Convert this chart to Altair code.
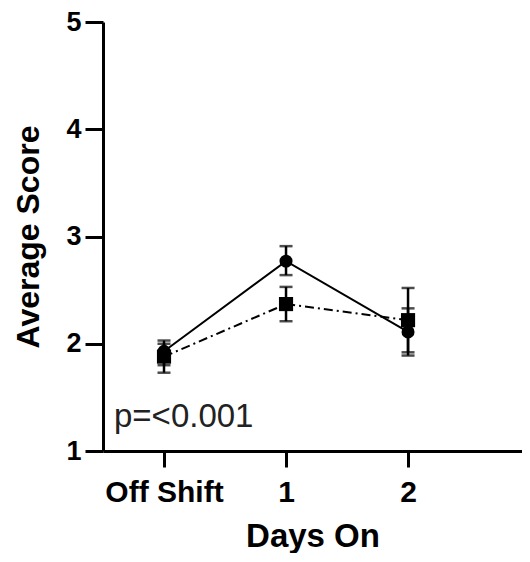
import altair as alt
import pandas as pd

# Data
days = ["Off Shift", "1", "2"]
day_pos = [0, 1, 2]
circle_mean = [1.93, 2.77, 2.11]
circle_lo = [1.80, 2.64, 1.89]
circle_hi = [2.03, 2.91, 2.33]
square_mean = [1.88, 2.37, 2.22]
square_lo = [1.73, 2.21, 1.92]
square_hi = [2.00, 2.53, 2.52]
annot_text = ["p=<0.001"]
annot_x = [-0.41]
annot_y = [1.22]

rows = []
for i in range(3):
    rows.append(dict(day=days[i], pos=day_pos[i], group="circle",
                     mean=circle_mean[i], lo=circle_lo[i], hi=circle_hi[i]))
for i in range(3):
    rows.append(dict(day=days[i], pos=day_pos[i], group="square",
                     mean=square_mean[i], lo=square_lo[i], hi=square_hi[i]))
df = pd.DataFrame(rows)
circ = df[df.group == "circle"]
sq = df[df.group == "square"]
annot = pd.DataFrame({"t": annot_text, "x": annot_x, "y": annot_y})

FONT = "Liberation Sans"
xscale = alt.Scale(domain=[-0.5, 2.934], nice=False, zero=False)
yscale = alt.Scale(domain=[1, 5], nice=False, zero=False)

label_expr = "datum.value == 0 ? 'Off Shift' : datum.value == 1 ? '1' : '2'"

xax = alt.Axis(values=day_pos, labelExpr=label_expr, title="Days On",
               domainWidth=3, domainColor="black", tickWidth=3, tickColor="black",
               tickSize=16, labelFontSize=30, labelFont=FONT, labelFontWeight="bold",
               labelColor="black", labelPadding=10, titleFontSize=33, titleFont=FONT,
               titleFontWeight="bold", titleColor="black", titlePadding=13, grid=False)
yax = alt.Axis(values=[1, 2, 3, 4, 5], format="d", title="Average Score",
               domainWidth=3, domainColor="black", tickWidth=3, tickColor="black",
               tickSize=18, labelFontSize=27, labelFont=FONT, labelFontWeight="bold",
               labelColor="black", labelPadding=4, titleFontSize=32, titleFont=FONT,
               titleFontWeight="bold", titleColor="black", titlePadding=20, grid=False)

base = alt.Chart(df)
x = alt.X("pos:Q", scale=xscale, axis=xax)

line_c = alt.Chart(circ).mark_line(color="black", strokeWidth=2).encode(
    x=x, y=alt.Y("mean:Q", scale=yscale, axis=yax))
line_s = alt.Chart(sq).mark_line(color="black", strokeWidth=2, strokeDash=[9, 4, 2, 4]).encode(
    x="pos:Q", y="mean:Q")

err_rule = base.mark_rule(color="black", strokeWidth=2.5).encode(
    x="pos:Q", y="lo:Q", y2="hi:Q")
cap_lo = base.mark_tick(color="black", thickness=2.5, size=13, orient="horizontal").encode(
    x="pos:Q", y="lo:Q")
cap_hi = base.mark_tick(color="black", thickness=2.5, size=13, orient="horizontal").encode(
    x="pos:Q", y="hi:Q")

pts_c = alt.Chart(circ).mark_point(shape="circle", filled=True, color="black", opacity=1, size=170).encode(
    x="pos:Q", y="mean:Q")
pts_s = alt.Chart(sq).mark_point(shape="square", filled=True, color="black", opacity=1, size=200).encode(
    x="pos:Q", y="mean:Q")

txt = alt.Chart(annot).mark_text(align="left", baseline="alphabetic", fontSize=33,
                                 font=FONT, color="#222").encode(
    x="x:Q", y="y:Q", text="t:N")

chart = alt.layer(line_c, line_s, err_rule, cap_lo, cap_hi, pts_c, pts_s, txt).properties(
    width=419, height=429,
    background="white",
    autosize=alt.AutoSizeParams(type="none"),
    padding={"left": 95, "top": 14, "right": 0, "bottom": 102},
).configure_view(stroke=None, strokeWidth=0)

chart.save("out.html", embed_options={"renderer": "svg", "actions": False})
